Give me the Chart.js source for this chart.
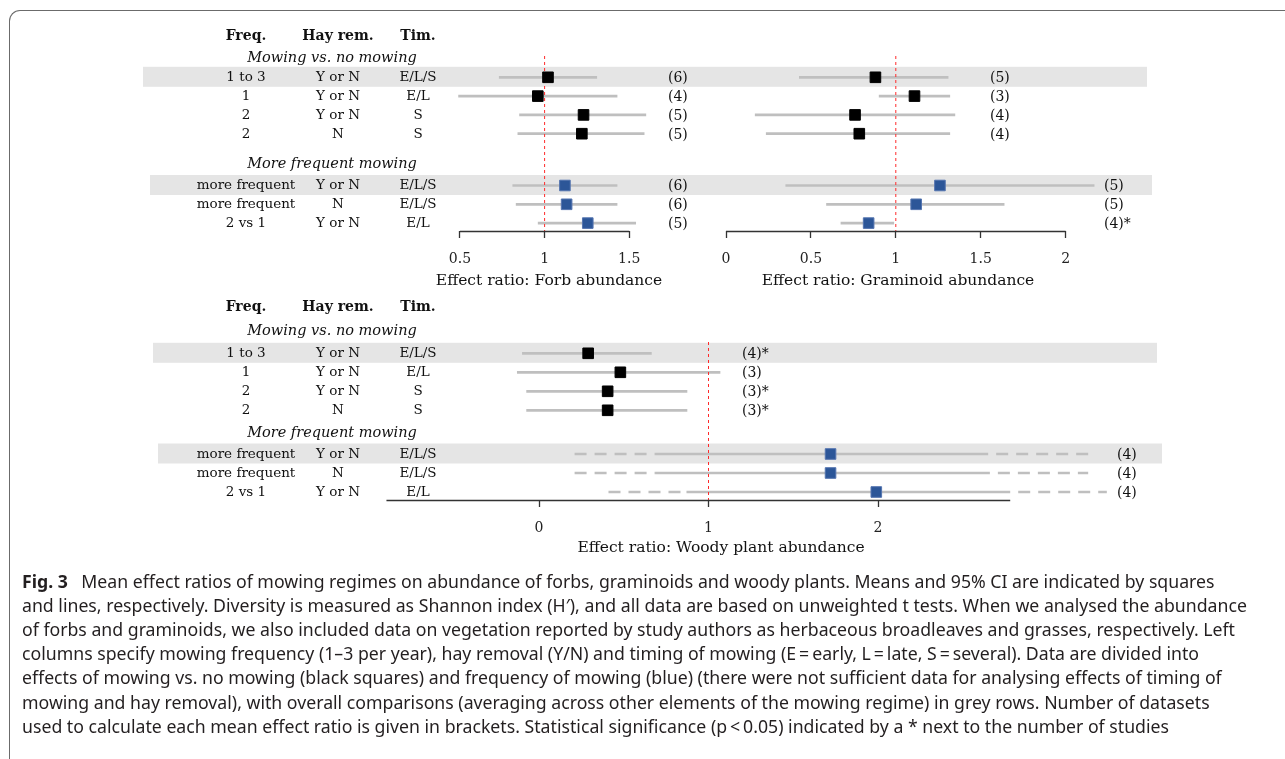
<!DOCTYPE html>
<html><head><meta charset="utf-8">
<script src="https://cdn.jsdelivr.net/npm/chart.js@4.4.1/dist/chart.umd.min.js"></script>
<style>
html,body{margin:0;padding:0;background:#fff}
#page{position:relative;width:1285px;height:759px;overflow:hidden;background:#fff}
#frame{position:absolute;left:9px;top:10px;width:1400px;height:900px;border-top:1.5px solid #6b6b6b;border-left:1.5px solid #6b6b6b;border-top-left-radius:11px}
canvas{position:absolute;left:0;top:0}
.lab{position:absolute;white-space:nowrap;font-family:'DejaVu Serif',serif;color:#111;line-height:1;transform:translate(-50%,-50%)}
.lft{transform:translate(0,-50%)}
.cap{position:absolute;left:22px;white-space:nowrap;font-family:'Noto Sans',sans-serif;font-size:17.7px;color:#231f20;line-height:1;transform:translateY(-50%)}
</style></head>
<body><div id="page"><div id="frame"></div>
<canvas id="cForb" width="1285" height="759"></canvas>
<canvas id="cGram" width="1285" height="759"></canvas>
<canvas id="cWoody" width="1285" height="759"></canvas>
<div id="texts"></div>
</div>
<script>
// ---------------- data ----------------
const columnHeads = ["Freq.", "Hay rem.", "Tim."];
const sectionTitles = ["Mowing vs. no mowing", "More frequent mowing"];
const mowFreq = ["1 to 3", "1", "2", "2"];
const mowHay  = ["Y or N", "Y or N", "Y or N", "N"];
const mowTim  = ["E/L/S", "E/L", "S", "S"];
const moreFreq = ["more frequent", "more frequent", "2 vs 1"];
const moreHay  = ["Y or N", "N", "Y or N"];
const moreTim  = ["E/L/S", "E/L/S", "E/L"];

const forbMean = [1.02, 0.96, 1.23, 1.22, 1.12, 1.13, 1.255];
const forbLo   = [0.73, 0.49, 0.85, 0.84, 0.81, 0.83, 0.96];
const forbHi   = [1.31, 1.43, 1.60, 1.59, 1.43, 1.43, 1.54];
const forbN    = ["(6)", "(4)", "(5)", "(5)", "(6)", "(6)", "(5)"];
const forbTicks = [0.5, 1, 1.5];
const forbAxisSpan = [0.5, 1.5];
const forbTitle = "Effect ratio: Forb abundance";

const gramMean = [0.88, 1.11, 0.76, 0.785, 1.26, 1.12, 0.84];
const gramLo   = [0.43, 0.90, 0.17, 0.235, 0.35, 0.59, 0.675];
const gramHi   = [1.31, 1.32, 1.35, 1.32, 2.17, 1.64, 0.99];
const gramN    = ["(5)", "(3)", "(4)", "(4)", "(5)", "(5)", "(4)*"];
const gramTicks = [0, 0.5, 1, 1.5, 2];
const gramAxisSpan = [0, 2];
const gramTitle = "Effect ratio: Graminoid abundance";

const woodyMean = [0.29, 0.48, 0.405, 0.405, 1.72, 1.72, 1.99];
const woodyLo   = [-0.10, -0.13, -0.075, -0.075, 0.69, 0.69, 0.87];
const woodyHi   = [0.665, 1.07, 0.875, 0.875, 2.65, 2.66, 2.78];
const woodyDashLo = [null, null, null, null, 0.21, 0.21, 0.41];
const woodyDashHi = [null, null, null, null, 3.24, 3.24, 3.35];
const woodyN    = ["(4)*", "(3)", "(3)*", "(3)*", "(4)", "(4)", "(4)"];
const woodyTicks = [0, 1, 2];
const woodyAxisSpan = [-0.9, 2.78];
const woodyTitle = "Effect ratio: Woody plant abundance";

const refValue = 1;
const greyRows = [0, 4];

const captionLines = [
  "<b>Fig. 3</b>\u2002 Mean effect ratios of mowing regimes on abundance of forbs, graminoids and woody plants. Means and 95% CI are indicated by squares",
  "and lines, respectively. Diversity is measured as Shannon index (H\u2032), and all data are based on unweighted t tests. When we analysed the abundance",
  "of forbs and graminoids, we also included data on vegetation reported by study authors as herbaceous broadleaves and grasses, respectively. Left",
  "columns specify mowing frequency (1\u20133 per year), hay removal (Y/N) and timing of mowing (E\u2009=\u2009early, L\u2009=\u2009late, S\u2009=\u2009several). Data are divided into",
  "effects of mowing vs. no mowing (black squares) and frequency of mowing (blue) (there were not sufficient data for analysing effects of timing of",
  "mowing and hay removal), with overall comparisons (averaging across other elements of the mowing regime) in grey rows. Number of datasets",
  "used to calculate each mean effect ratio is given in brackets. Statistical significance (p\u2009<\u20090.05) indicated by a * next to the number of studies"
];

// ---------------- layout ----------------
const NMOW = mowFreq.length;
const LAY = {
  forb:  {anchorVal: 1, anchorPx: 544.6, unit: 169.3, row0: 77.3, rowH: 18.8, gap: 1.755, axisY: 231, refTopPx: 56,
          pad: {left: 430, right: 585, top: 0}, bands: [[143, 1147], [150, 1152]], countX: 668, countX2: 668, title: [549, 281]},
  gram:  {anchorVal: 0, anchorPx: 726, unit: 169.8, row0: 77.3, rowH: 18.8, gap: 1.755, axisY: 231, refTopPx: 56,
          pad: {left: 700, right: 130, top: 0}, bands: null, countX: 990, countX2: 1104, title: [898, 281]},
  woody: {anchorVal: 0, anchorPx: 539, unit: 169.5, row0: 353.3, rowH: 19, gap: 1.3, axisY: 500, refTopPx: 342,
          pad: {left: 380, right: 160, top: 290}, bands: [[153, 1157], [158, 1162]], countX: 742, countX2: 1117, title: [721, 548]}
};
const COLX = [246, 338, 418];
const SECX = 332;
const HEAD = {top: {cols: -2.25, sec1: -1.08, sec2: -1.17}, bottom: {cols: -2.49, sec1: -1.23, sec2: -1.16}};

const GREY = '#bfbfbf', BLUE = '#2c5698', BLUEB = '#5575b0';
const serif = 'DejaVu Serif';

function buildPanel(canvasId, P) {
  const yOf = i => i < NMOW ? i : i + P.lay.gap;
  const ds = [];
  ds.push({
    data: P.mean.map((m, i) => ({x: m, y: yOf(i)})),
    pointStyle: 'rect', pointRadius: 7.5,
    pointBackgroundColor: P.mean.map((m, i) => i < NMOW ? '#000' : BLUE),
    pointBorderColor: P.mean.map((m, i) => i < NMOW ? '#000' : BLUEB),
    pointBorderWidth: 1, showLine: false, order: 0, clip: false
  });
  const refDs = {
    data: [{x: refValue, y: 0}, {x: refValue, y: 0}],
    borderColor: '#ff2a2a', borderWidth: 1, borderDash: [3, 3], pointRadius: 0, showLine: true, order: 1
  };
  ds.push(refDs);
  P.mean.forEach((m, i) => {
    ds.push({data: [{x: P.lo[i], y: yOf(i)}, {x: P.hi[i], y: yOf(i)}],
      borderColor: GREY, borderWidth: 2.7, pointRadius: 0, showLine: true, order: 2, borderCapStyle: 'butt'});
    if (P.dashLo && P.dashLo[i] != null) {
      ds.push({data: [{x: P.dashLo[i], y: yOf(i)}, {x: P.lo[i], y: yOf(i)}],
        borderColor: GREY, borderWidth: 2.7, borderDash: [12, 8], pointRadius: 0, showLine: true, order: 2, borderCapStyle: 'butt'});
    }
    if (P.dashHi && P.dashHi[i] != null) {
      ds.push({data: [{x: P.hi[i], y: yOf(i)}, {x: P.dashHi[i], y: yOf(i)}],
        borderColor: GREY, borderWidth: 2.7, borderDash: [12, 8], borderDashOffset: 12, pointRadius: 0, showLine: true, order: 2, borderCapStyle: 'butt'});
    }
  });
  const plug = {
    id: 'extras_' + canvasId,
    beforeDatasetsDraw(chart) {
      const c = chart.ctx, ys = chart.scales.y;
      if (P.lay.bands) {
        c.save(); c.fillStyle = '#e5e5e5';
        greyRows.forEach((r, k) => {
          const y = ys.getPixelForValue(yOf(r));
          const b = P.lay.bands[k];
          c.fillRect(b[0], y - 10.5, b[1] - b[0], 20);
        });
        c.restore();
      }
    },
    afterDraw(chart) {
      const c = chart.ctx, xs = chart.scales.x, a = chart.chartArea;
      c.save(); c.strokeStyle = '#333'; c.lineWidth = 1.3;
      c.beginPath();
      c.moveTo(xs.getPixelForValue(P.axisSpan[0]), Math.round(a.bottom) + 0.5);
      c.lineTo(xs.getPixelForValue(P.axisSpan[1]), Math.round(a.bottom) + 0.5);
      c.stroke(); c.restore();
    }
  };
  const chart = new Chart(document.getElementById(canvasId), {
    type: 'scatter',
    data: {datasets: ds},
    options: {
      responsive: false, animation: false, events: [],
      layout: {padding: {left: P.lay.pad.left, right: P.lay.pad.right, top: P.lay.pad.top, bottom: 0}},
      plugins: {legend: {display: false}, tooltip: {enabled: false}},
      scales: {
        x: {
          type: 'linear', min: -1, max: 4,
          afterBuildTicks: s => { s.ticks = P.ticks.map(v => ({value: v})); },
          ticks: {autoSkip: false, maxRotation: 0, padding: 13, color: '#222', font: {family: serif, size: 14}, callback: v => String(v)},
          grid: {display: true, drawOnChartArea: false, drawTicks: true, tickLength: 7, tickColor: '#333', tickWidth: 1.3, color: '#333'},
          border: {display: false}
        },
        y: {type: 'linear', display: false, reverse: true, min: -4, max: 10}
      }
    },
    plugins: [plug]
  });
  // calibrate to layout
  for (let k = 0; k < 3; k++) {
    const a = chart.chartArea;
    chart.options.layout.padding.bottom += (a.bottom - P.lay.axisY);
    chart.update('none');
    const b = chart.chartArea;
    chart.options.scales.x.min = P.lay.anchorVal - (P.lay.anchorPx - b.left) / P.lay.unit;
    chart.options.scales.x.max = P.lay.anchorVal + (b.right - P.lay.anchorPx) / P.lay.unit;
    chart.options.scales.y.min = (b.top - P.lay.row0) / P.lay.rowH;
    chart.options.scales.y.max = (b.bottom - P.lay.row0) / P.lay.rowH;
    refDs.data[0].y = (P.lay.refTopPx - P.lay.row0) / P.lay.rowH;
    refDs.data[1].y = chart.options.scales.y.max;
    chart.update('none');
  }
  chart.yOf = yOf;
  return chart;
}

const forb = buildPanel('cForb', {mean: forbMean, lo: forbLo, hi: forbHi, ticks: forbTicks, axisSpan: forbAxisSpan, lay: LAY.forb});
const gram = buildPanel('cGram', {mean: gramMean, lo: gramLo, hi: gramHi, ticks: gramTicks, axisSpan: gramAxisSpan, lay: LAY.gram});
const woody = buildPanel('cWoody', {mean: woodyMean, lo: woodyLo, hi: woodyHi, dashLo: woodyDashLo, dashHi: woodyDashHi, ticks: woodyTicks, axisSpan: woodyAxisSpan, lay: LAY.woody});

// ---------------- texts ----------------
const T = document.getElementById('texts');
function txt(s, x, y, style, left) {
  const d = document.createElement('div');
  d.className = 'lab' + (left ? ' lft' : '');
  d.textContent = s;
  d.style.left = x + 'px'; d.style.top = y + 'px';
  Object.assign(d.style, style || {});
  T.appendChild(d);
}
const rowStyle = {fontSize: '13.5px'};
function leftColumns(chart, head) {
  const ys = chart.scales.y;
  const py = v => ys.getPixelForValue(v);
  columnHeads.forEach((h, j) => txt(h, COLX[j], py(head.cols), {fontSize: '14px', fontWeight: 'bold'}));
  txt(sectionTitles[0], SECX, py(head.sec1), {fontSize: '14.5px', fontStyle: 'italic'});
  txt(sectionTitles[1], SECX, py(chart.yOf(NMOW) + head.sec2), {fontSize: '14.5px', fontStyle: 'italic'});
  const F = mowFreq.concat(moreFreq), H = mowHay.concat(moreHay), Ti = mowTim.concat(moreTim);
  F.forEach((f, i) => {
    const y = py(chart.yOf(i));
    txt(f, COLX[0], y, rowStyle); txt(H[i], COLX[1], y, rowStyle); txt(Ti[i], COLX[2], y, rowStyle);
  });
}
function counts(chart, N, lay) {
  const ys = chart.scales.y;
  N.forEach((n, i) => txt(n, i < NMOW ? lay.countX : lay.countX2, ys.getPixelForValue(chart.yOf(i)), {fontSize: '14px'}, true));
}
leftColumns(forb, HEAD.top);
leftColumns(woody, HEAD.bottom);
counts(forb, forbN, LAY.forb);
counts(gram, gramN, LAY.gram);
counts(woody, woodyN, LAY.woody);
txt(forbTitle, LAY.forb.title[0], LAY.forb.title[1], {fontSize: '15.5px'});
txt(gramTitle, LAY.gram.title[0], LAY.gram.title[1], {fontSize: '15.5px'});
txt(woodyTitle, LAY.woody.title[0], LAY.woody.title[1], {fontSize: '15.5px'});

captionLines.forEach((s, i) => {
  const d = document.createElement('div');
  d.className = 'cap';
  d.innerHTML = s;
  d.style.top = (582 + i * 24.1) + 'px';
  T.appendChild(d);
});
</script>
</body></html>
